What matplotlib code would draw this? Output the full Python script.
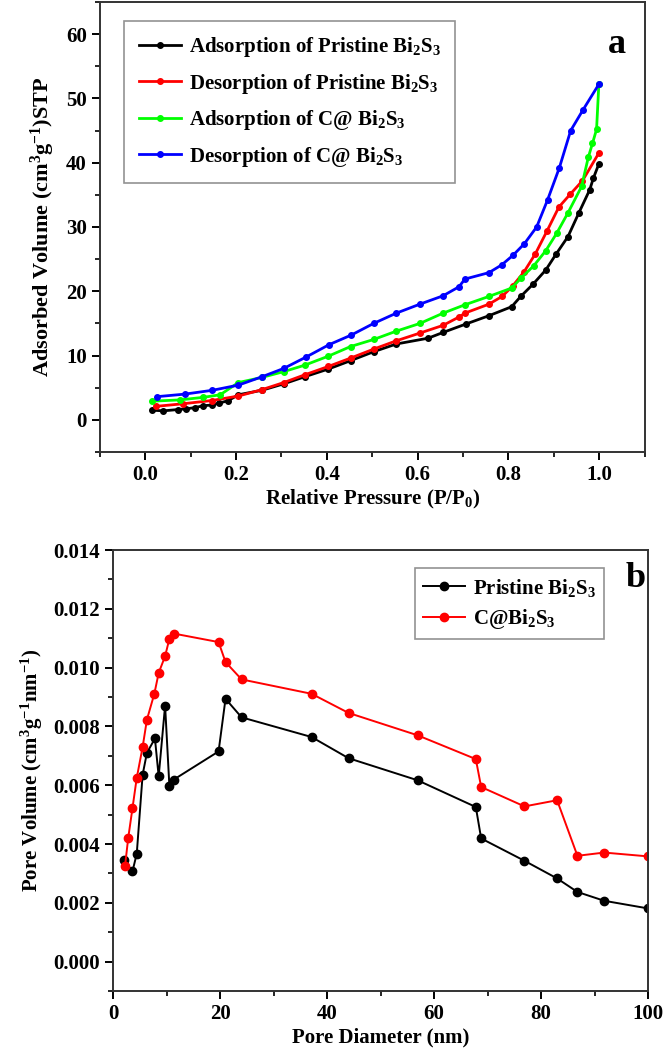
import matplotlib
matplotlib.use("Agg")
import matplotlib.pyplot as plt
from matplotlib.ticker import MultipleLocator, FormatStrFormatter


# ========================
# DONNEES
# ========================

# (a) isothermes N2
p_ads_pristine = [0.014, 0.040, 0.072, 0.089, 0.109, 0.128, 0.146, 0.163, 0.183, 0.205,
                  0.257, 0.305, 0.351, 0.403, 0.452, 0.503, 0.553, 0.623, 0.656, 0.706,
                  0.757, 0.807, 0.827, 0.854, 0.882, 0.905, 0.931, 0.955, 0.979, 0.987, 0.999]
v_ads_pristine = [1.5, 1.4, 1.6, 1.7, 1.9, 2.2, 2.3, 2.6, 3.0, 3.9,
                  4.6, 5.6, 6.7, 7.9, 9.2, 10.6, 11.8, 12.7, 13.6, 14.9,
                  16.2, 17.6, 19.2, 21.1, 23.3, 25.8, 28.5, 32.2, 35.8, 37.6, 39.8]

p_des_pristine = [0.024, 0.083, 0.146, 0.205, 0.257, 0.305, 0.351, 0.403, 0.452, 0.503,
                  0.553, 0.605, 0.656, 0.691, 0.704, 0.757, 0.786, 0.809, 0.834, 0.859,
                  0.885, 0.911, 0.936, 0.963, 0.999]
v_des_pristine = [2.1, 2.5, 3.0, 3.7, 4.7, 5.8, 7.0, 8.3, 9.6, 11.0,
                  12.3, 13.5, 14.7, 16.0, 16.6, 18.0, 19.2, 20.8, 23.0, 25.8,
                  29.4, 33.1, 35.1, 37.2, 41.5]

p_ads_c = [0.014, 0.076, 0.128, 0.165, 0.205, 0.257, 0.305, 0.351, 0.403, 0.452,
           0.503, 0.553, 0.605, 0.656, 0.704, 0.757, 0.807, 0.827, 0.856, 0.882,
           0.906, 0.931, 0.961, 0.976, 0.985, 0.994, 0.999]
v_ads_c = [2.9, 3.1, 3.5, 3.9, 5.8, 6.6, 7.5, 8.5, 9.9, 11.4,
           12.5, 13.8, 15.0, 16.6, 17.9, 19.2, 20.5, 22.0, 24.0, 26.3,
           29.0, 32.2, 36.3, 40.9, 43.0, 45.2, 52.2]

p_des_c = [0.025, 0.087, 0.148, 0.205, 0.257, 0.305, 0.355, 0.405, 0.454, 0.503,
           0.553, 0.605, 0.656, 0.691, 0.704, 0.757, 0.785, 0.810, 0.835, 0.862,
           0.886, 0.912, 0.937, 0.964, 0.999]
v_des_c = [3.6, 4.0, 4.6, 5.4, 6.7, 8.0, 9.8, 11.7, 13.2, 15.0,
           16.6, 18.0, 19.3, 20.7, 21.9, 22.9, 24.1, 25.6, 27.4, 30.0,
           34.2, 39.2, 45.0, 48.2, 52.2]

# (b) distribution de taille de pores
d_pristine = [2.0, 3.6, 4.4, 5.5, 6.3, 7.8, 8.5, 9.7, 10.5, 11.3, 19.7, 21.0, 24.0,
              37.1, 44.0, 56.9, 67.8, 68.8, 76.9, 83.0, 86.8, 91.8, 100.0]
pv_pristine = [0.00346, 0.00307, 0.00367, 0.00636, 0.00710, 0.00759, 0.00630, 0.00871,
               0.00598, 0.00619, 0.00715, 0.00894, 0.00831, 0.00764, 0.00692, 0.00617,
               0.00526, 0.00419, 0.00343, 0.00283, 0.00237, 0.00207, 0.00181]

d_c = [2.2, 2.8, 3.6, 4.4, 5.5, 6.3, 7.7, 8.5, 9.7, 10.5, 11.3, 19.7, 21.0, 24.0,
       37.1, 44.0, 56.9, 67.8, 68.8, 76.9, 83.0, 86.8, 91.8, 100.0]
pv_c = [0.00324, 0.00420, 0.00522, 0.00625, 0.00730, 0.00823, 0.00912, 0.00982, 0.01039,
        0.01098, 0.01116, 0.01087, 0.01019, 0.00960, 0.00911, 0.00846, 0.00770, 0.00689,
        0.00594, 0.00528, 0.00549, 0.00360, 0.00371, 0.00358]


# ========================
# STYLE
# ========================

plt.rcParams["font.family"] = ["Liberation Serif", "DejaVu Serif"]
plt.rcParams["font.weight"] = "bold"
plt.rcParams["axes.labelweight"] = "bold"
plt.rcParams["mathtext.fontset"] = "custom"
plt.rcParams["mathtext.rm"] = "Liberation Serif:bold"
plt.rcParams["mathtext.bf"] = "Liberation Serif:bold"
plt.rcParams["mathtext.it"] = "Liberation Serif:bold"
plt.rcParams["mathtext.default"] = "bf"

BI2S3 = "Bi$_2$S$_3$"


def style_axes(ax):
    for side in ["left", "bottom", "right", "top"]:
        ax.spines[side].set_linewidth(1.4)
        ax.spines[side].set_color("#333333")
    ax.tick_params(which="major", direction="out", length=6, width=1.4,
                   labelsize=15, top=False, right=False)
    ax.tick_params(which="minor", direction="out", length=3.5, width=1.2,
                   top=False, right=False)
    for lab in ax.get_xticklabels() + ax.get_yticklabels():
        lab.set_fontweight("bold")


fig = plt.figure(figsize=(6.66, 10.58), dpi=100)

# ========================
# (a)
# ========================
ax1 = fig.add_axes([0.150, 0.5728, 0.818, 0.4253])
ax1.plot(p_ads_pristine, v_ads_pristine, "-o", color="black", lw=2, ms=4,
         label="Adsorption of Pristine " + BI2S3)
ax1.plot(p_des_pristine, v_des_pristine, "-o", color="#ff0000", lw=2, ms=4,
         label="Desorption of Pristine " + BI2S3)
ax1.plot(p_ads_c, v_ads_c, "-o", color="#00ff00", lw=2, ms=4,
         label="Adsorption of C@ " + BI2S3)
ax1.plot(p_des_c, v_des_c, "-o", color="#0000ff", lw=2, ms=4,
         label="Desorption of C@ " + BI2S3)

ax1.set_xlim(-0.1, 1.1)
ax1.set_ylim(-5, 65)
ax1.xaxis.set_major_locator(MultipleLocator(0.2))
ax1.xaxis.set_minor_locator(MultipleLocator(0.1))
ax1.yaxis.set_major_locator(MultipleLocator(10))
ax1.yaxis.set_minor_locator(MultipleLocator(5))
style_axes(ax1)
ax1.set_xlabel("Relative Pressure (P/P$_0$)", fontsize=15, labelpad=2)
ax1.set_ylabel("Adsorbed Volume (cm$^3$g$^{-1}$)STP", fontsize=16, labelpad=6)
leg1 = ax1.legend(loc="upper left", bbox_to_anchor=(0.026, 0.982), fontsize=15,
                  frameon=True, fancybox=False, edgecolor="#777777",
                  handlelength=2.0, handletextpad=0.4, labelspacing=0.6,
                  borderpad=0.7)
leg1.get_frame().set_linewidth(1.2)
ax1.text(0.965, 0.905, "a", transform=ax1.transAxes, fontsize=26,
         fontweight="bold", ha="right", va="center")

# ========================
# (b)
# ========================
ax2 = fig.add_axes([0.170, 0.0633, 0.803, 0.4168])
ax2.plot(d_pristine, pv_pristine, "-o", color="black", lw=1.4, ms=6,
         label="Pristine " + BI2S3)
ax2.plot(d_c, pv_c, "-o", color="#ff0000", lw=1.4, ms=6,
         label="C@" + BI2S3)

ax2.set_xlim(0, 100)
ax2.set_ylim(-0.001, 0.014)
ax2.xaxis.set_major_locator(MultipleLocator(20))
ax2.xaxis.set_minor_locator(MultipleLocator(10))
ax2.yaxis.set_major_locator(MultipleLocator(0.002))
ax2.yaxis.set_minor_locator(MultipleLocator(0.001))
ax2.yaxis.set_major_formatter(FormatStrFormatter("%.3f"))
style_axes(ax2)
ax2.set_xlabel("Pore Diameter (nm)", fontsize=15, labelpad=2)
ax2.set_ylabel("Pore Volume (cm$^3$g$^{-1}$nm$^{-1}$)", fontsize=15, labelpad=6)
leg2 = ax2.legend(loc="upper right", bbox_to_anchor=(0.938, 0.982), fontsize=15,
                  frameon=True, fancybox=False, edgecolor="#777777",
                  handlelength=2.0, handletextpad=0.4, labelspacing=0.4,
                  borderpad=0.4)
leg2.get_frame().set_linewidth(1.2)
ax2.text(0.995, 0.935, "b", transform=ax2.transAxes, fontsize=26,
         fontweight="bold", ha="right", va="center")

fig.savefig("out.png", dpi=100)
